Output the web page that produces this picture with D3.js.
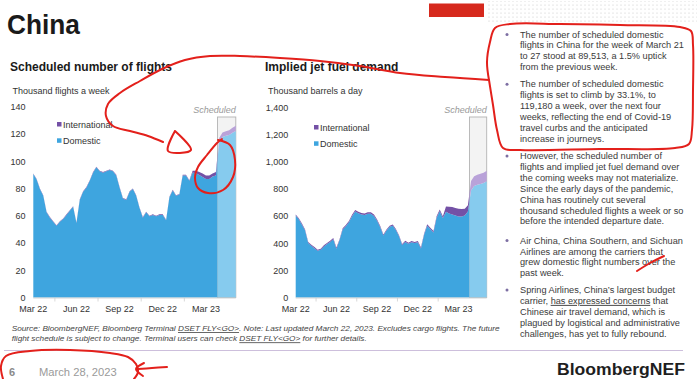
<!DOCTYPE html>
<html><head><meta charset="utf-8">
<script src="https://cdn.jsdelivr.net/npm/d3@7"></script>
<style>
body{margin:0;background:#fff}
svg{display:block}
text{font-family:"Liberation Sans",Arial,sans-serif}
</style>
</head><body>
<svg id="c" width="697" height="379"></svg>
<script>
// ---------------- DATA ----------------
const weekIdx = d3.range(62); // weekly observations, Mar 2022 -> Apr 2023
const xTickWeeks = [0, 13, 26, 39, 52];
const xTickLabels = ["Mar 22", "Jun 22", "Sep 22", "Dec 22", "Mar 23"];
const xMinorWeeks = [6.5, 19.5, 32.5, 45.5];
const scheduledFrom = 55.5;

// Scheduled number of flights (thousand flights a week)
const flightsDomestic = [90.6, 86.6, 79.6, 74.6, 62.6, 58.6, 55.6, 52.6, 55.6, 57.6,
  60.6, 63.6, 66.6, 54.6, 71.6, 77.6, 80.6, 85.6, 91.6, 95.6,
  92.6, 91.6, 92.6, 93.6, 92.6, 89.6, 80.6, 72.6, 71.6, 77.6,
  79.6, 74.6, 65.6, 58.6, 62.6, 59.6, 60.6, 59.6, 60.6, 60.6,
  56.6, 73.6, 78.6, 74.6, 75.6, 89.6, 89.6, 85.6, 91.8, 91.2,
  89.8, 88.5, 86.9, 87.0, 88.7, 89.5, 114.0, 117.8, 118.6, 119.2,
  120.9, 122.2];
const flightsIntl = [0.4, 0.4, 0.4, 0.4, 0.4, 0.4, 0.4, 0.4, 0.4, 0.4,
  0.4, 0.4, 0.4, 0.4, 0.4, 0.4, 0.4, 0.4, 0.4, 0.4,
  0.4, 0.4, 0.4, 0.4, 0.4, 0.4, 0.4, 0.4, 0.4, 0.4,
  0.4, 0.4, 0.4, 0.4, 0.4, 0.4, 0.4, 0.4, 0.4, 0.4,
  0.4, 0.4, 0.4, 0.4, 0.4, 0.4, 0.4, 0.4, 1.2, 1.8,
  2.2, 2.5, 2.6, 2.5, 2.3, 2.5, 3.0, 3.2, 3.4, 3.5,
  3.6, 3.8];
const flightsTicks = [0, 20, 40, 60, 80, 100, 120, 140];

// Implied jet fuel demand (thousand barrels a day)
const fuelDomestic = [604, 577, 537, 494, 402, 382, 364, 344, 352, 377,
  394, 410, 430, 360, 422, 501, 526, 555, 599, 634,
  622, 613, 609, 618, 617, 602, 566, 519, 457, 494,
  522, 530, 497, 452, 387, 410, 396, 408, 402, 408,
  362, 462, 530, 505, 480, 588, 636, 586, 632, 620,
  613, 605, 597, 597, 605, 635, 790, 823, 831, 837,
  844, 857];
const fuelIntl = [8, 8, 8, 8, 8, 8, 8, 8, 8, 8,
  8, 8, 8, 8, 8, 9, 9, 10, 11, 11,
  11, 11, 11, 11, 11, 10, 9, 9, 8, 8,
  8, 8, 8, 8, 8, 8, 8, 8, 8, 8,
  8, 8, 10, 10, 10, 12, 14, 14, 40, 50,
  55, 55, 58, 55, 50, 45, 70, 72, 74, 75,
  76, 78];
const fuelTicks = [0, 200, 400, 600, 800, 1000, 1200, 1400];

const bullets = [
  ["The number of scheduled domestic", "flights in China for the week of March 21", "to 27 stood at 89,513, a 1.5% uptick", "from the previous week."],
  ["The number of scheduled domestic", "flights is set to climb by 33.1%, to", "119,180 a week, over the next four", "weeks, reflecting the end of Covid-19", "travel curbs and the anticipated", "increase in journeys."],
  ["However, the scheduled number of", "flights and implied jet fuel demand over", "the coming weeks may not materialize.", "Since the early days of the pandemic,", "China has routinely cut several", "thousand scheduled flights a week or so", "before the intended departure date."],
  ["Air China, China Southern, and Sichuan", "Airlines are among the carriers that", "grew domestic flight numbers over the", "past week."],
  ["Spring Airlines, China\u2019s largest budget", "carrier, |has expressed concerns| that", "Chinese air travel demand, which is", "plagued by logistical and administrative", "challenges, has yet to fully rebound."]
];

// ---------------- DRAW ----------------
const svg = d3.select("#c");
const defs = svg.append("defs");
const C = { dom: "#3ea5df", domS: "#86cbee", intl: "#7451a6", intlS: "#b9a2d9" };

// dotted header pattern
const pat = defs.append("pattern").attr("id", "dots").attr("width", 4).attr("height", 4)
  .attr("patternUnits", "userSpaceOnUse");
pat.append("circle").attr("cx", 1).attr("cy", 1).attr("r", 0.55).attr("fill", "#c4c4c4");
svg.append("rect").attr("x", 487).attr("y", 1).attr("width", 210).attr("height", 22).attr("fill", "url(#dots)");
svg.append("rect").attr("x", 429).attr("y", 3.5).attr("width", 55).attr("height", 13.5).attr("fill", "#d6291d");

svg.append("text").attr("x", 7).attr("y", 34).text("China")
  .attr("font-size", 27).attr("font-weight", "bold").attr("fill", "#1a1a1a")
  .attr("textLength", 73).attr("lengthAdjust", "spacingAndGlyphs");

function chart(cfg) {
  const g = svg.append("g");
  const x = d3.scaleLinear().domain([0, weekIdx.length - 1]).range([cfg.left, cfg.right]);
  const y = d3.scaleLinear().domain([0, cfg.yMax]).range([cfg.bottom, cfg.top]);
  const rows = weekIdx.map((w, i) => ({ w, dom: cfg.dom[i], intl: cfg.intl[i] }));
  const series = d3.stack().keys(["dom", "intl"])(rows);
  const xs = x(scheduledFrom);

  g.append("text").attr("x", cfg.titleX).attr("y", 71).text(cfg.title)
    .attr("font-size", 12).attr("font-weight", "bold").attr("fill", "#1a1a1a");
  g.append("text").attr("x", cfg.unitX).attr("y", 94).text(cfg.unit)
    .attr("font-size", 9).attr("fill", "#333");

  // scheduled box
  g.append("rect").attr("x", xs).attr("y", 117).attr("width", cfg.right - xs)
    .attr("height", cfg.bottom - 117).attr("fill", "#f3f3f3")
    .attr("stroke", "#b3b3b3").attr("stroke-width", 0.9);
  g.append("text").attr("x", cfg.right).attr("y", 112.5).attr("text-anchor", "end")
    .text("Scheduled").attr("font-size", 9).attr("font-style", "italic").attr("fill", "#9a9a9a");

  // clips
  defs.append("clipPath").attr("id", cfg.id + "a").append("rect")
    .attr("x", cfg.left - 2).attr("y", 0).attr("width", xs - cfg.left + 2).attr("height", 379);
  defs.append("clipPath").attr("id", cfg.id + "s").append("rect")
    .attr("x", xs).attr("y", 0).attr("width", cfg.right - xs + 2).attr("height", 379);

  const area = d3.area().x(d => x(d.data.w)).y0(d => y(d[0])).y1(d => y(d[1]));
  const cols = [[C.dom, C.intl], [C.domS, C.intlS]];
  ["a", "s"].forEach((k, j) => {
    g.append("g").attr("clip-path", `url(#${cfg.id + k})`)
      .selectAll("path").data(series).join("path")
      .attr("d", area).attr("fill", (d, i) => cols[j][i]);
  });

  // axes
  g.append("line").attr("x1", cfg.left).attr("x2", cfg.right).attr("y1", cfg.bottom + 0.5)
    .attr("y2", cfg.bottom + 0.5).attr("stroke", "#c9c9c9").attr("stroke-width", 0.8);
  g.selectAll(".mt").data(xMinorWeeks).join("line")
    .attr("x1", d => x(d)).attr("x2", d => x(d)).attr("y1", cfg.bottom + 0.5).attr("y2", cfg.bottom + 4)
    .attr("stroke", "#cfcfcf").attr("stroke-width", 0.8);
  g.selectAll(".xl").data(xTickWeeks).join("text")
    .attr("x", d => x(d)).attr("y", 312).attr("text-anchor", "middle")
    .text((d, i) => xTickLabels[i]).attr("font-size", 9).attr("fill", "#333");
  g.selectAll(".yl").data(cfg.ticks).join("text")
    .attr("x", cfg.labelX).attr("y", d => y(d) + 3.3).attr("text-anchor", "end")
    .text(d3.format(",")).attr("font-size", 9).attr("fill", "#333");

  // legend
  const leg = [["International", C.intl], ["Domestic", C.dom]];
  leg.forEach((l, i) => {
    const by = cfg.legY + i * 16.3;
    g.append("rect").attr("x", cfg.legX).attr("y", by - 6).attr("width", 4.5).attr("height", 4.5).attr("fill", l[1]);
    g.append("text").attr("x", cfg.legX + 6).attr("y", by).text(l[0]).attr("font-size", 9).attr("fill", "#333");
  });
}

chart({ id: "f", title: "Scheduled number of flights", titleX: 10, unit: "Thousand flights a week", unitX: 12.5,
  left: 33.3, right: 235.8, top: 106.7, bottom: 297.5, yMax: 140, ticks: flightsTicks, labelX: 25.5,
  dom: flightsDomestic, intl: flightsIntl, legX: 57, legY: 128 });
chart({ id: "j", title: "Implied jet fuel demand", titleX: 265, unit: "Thousand barrels a day", unitX: 268,
  left: 295.7, right: 486.7, top: 107.7, bottom: 297.5, yMax: 1400, ticks: fuelTicks, labelX: 288.3,
  dom: fuelDomestic, intl: fuelIntl, legX: 314, legY: 131 });

// right text column
let by = [37.5, 87.3, 159, 243.6, 293];
bullets.forEach((lines, b) => {
  svg.append("circle").attr("cx", 507).attr("cy", by[b] - 3).attr("r", 1.5).attr("fill", "#7d6fa3");
  lines.forEach((ln, i) => {
    const t = svg.append("text").attr("x", 520).attr("y", by[b] + i * 10.9)
      .attr("font-size", 9.2).attr("fill", "#3a3a3a");
    ln.split("|").forEach((part, k) => {
      const s = t.append("tspan").text(part);
      if (k % 2 === 1) s.attr("text-decoration", "underline");
    });
  });
});

// source note
const src = [
  ["Source: BloombergNEF, Bloomberg Terminal ", "DSET FLY<GO>", ". Note: Last updated March 22, 2023. Excludes cargo flights. The future"],
  ["flight schedule is subject to change. Terminal users can check ", "DSET FLY<GO>", " for further details."]
];
const srcLen = [488, 355];
src.forEach((parts, i) => {
  const t = svg.append("text").attr("x", 11.7).attr("y", 331 + i * 10.3)
    .attr("font-size", 8.1).attr("font-style", "italic").attr("fill", "#444")
    .attr("textLength", srcLen[i]).attr("lengthAdjust", "spacingAndGlyphs");
  parts.forEach((p, k) => {
    const s = t.append("tspan").text(p);
    if (k === 1) s.attr("text-decoration", "underline");
  });
});

// footer
svg.append("line").attr("x1", 4).attr("x2", 683).attr("y1", 350.5).attr("y2", 350.5)
  .attr("stroke", "#cdbfdc").attr("stroke-width", 1.2);
svg.append("text").attr("x", 9).attr("y", 376).text("6").attr("font-size", 11)
  .attr("font-weight", "bold").attr("fill", "#8a8a8a");
svg.append("text").attr("x", 39).attr("y", 376).text("March 28, 2023").attr("font-size", 11.2).attr("fill", "#9a9a9a");
svg.append("text").attr("x", 557).attr("y", 375).text("BloombergNEF").attr("font-size", 16.7)
  .attr("font-weight", "bold").attr("fill", "#1e1e1e").attr("textLength", 128).attr("lengthAdjust", "spacingAndGlyphs");

// hand-drawn red annotations on the screenshot
const scribbles = [
  [[163,142],[148,136],[130,131],[113,126],[106,116],[108,104],[120,93],[140,81],[162,69],[185,60],[210,56],[240,56],[280,58],[320,61],[360,66],[400,73],[445,77],[489,80]],
  [[175,131],[168,151],[191,150],[175,131]],
  [[218,140],[230,145],[235,160],[233,177],[223,190],[208,193],[198,188],[195,178],[198,167],[207,155],[217,143],[222,139]],
  [[489,80],[487,62],[490,42],[495,28],[510,24],[560,24],[620,25],[680,27],[691,31],[693,45],[693,90],[692,130],[689,144],[675,148],[600,149],[520,150],[503,148],[497,130],[493,105],[489,80]],
  [[637,271],[650,263],[664,256]],
  [[3,379],[1,366],[6,356],[30,351],[70,350],[110,353],[128,357],[136,364],[138,372],[134,379]],
  [[138,369],[152,368],[167,367]],
  [[144,363],[136,369],[143,376]]
];
const pen = d3.line().curve(d3.curveCatmullRom.alpha(0.5));
svg.append("g").selectAll("path").data(scribbles).join("path")
  .attr("d", pen).attr("fill", "none").attr("stroke", "#e3201b").attr("stroke-width", 2)
  .attr("stroke-linecap", "round").attr("stroke-linejoin", "round");
</script>
</body></html>
